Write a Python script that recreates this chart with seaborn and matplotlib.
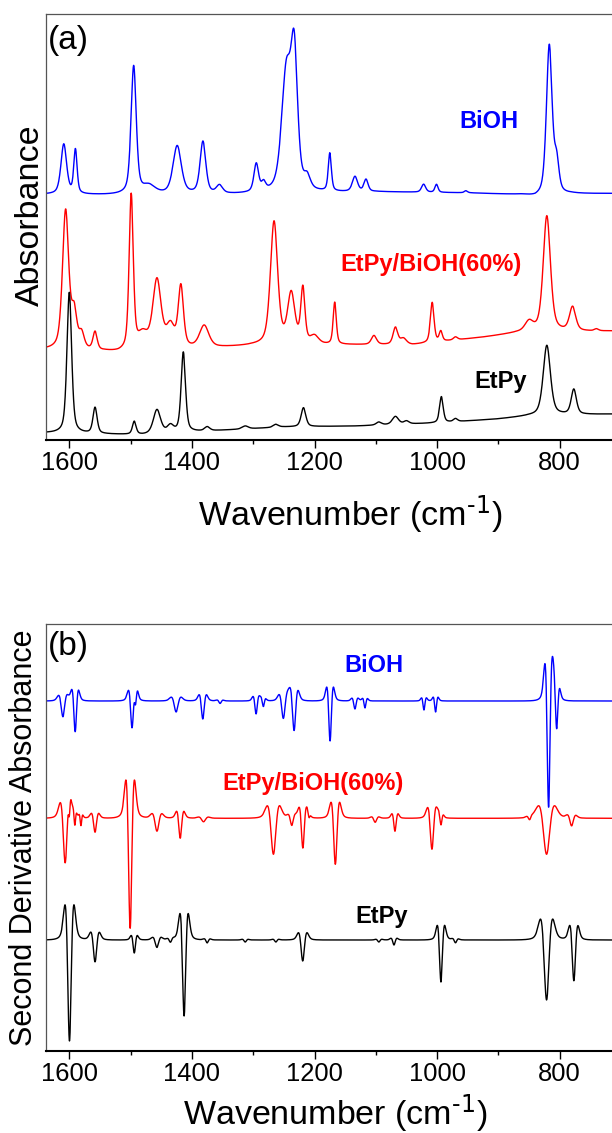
import numpy as np
import pandas as pd
import matplotlib
matplotlib.use("Agg")
import matplotlib.pyplot as plt
import seaborn as sns
from matplotlib.ticker import FixedLocator, MultipleLocator

# ---------------------------------------------------------------- data
WN_MIN, WN_MAX = 700.0, 1638.5
SERIES = ["BiOH", "EtPy/BiOH(60%)", "EtPy"]
COLORS = {"BiOH": "#0000FF", "EtPy/BiOH(60%)": "#FF0000", "EtPy": "#000000"}

# (a) absorbance: baseline anchors (cm-1, level) and bands (centre, height, half width)
BIOH_BASE_WN = [1638, 1540, 1330, 1100, 950, 860, 840, 780, 700]
BIOH_BASE_LV = [245.5, 245.0, 245.5, 248.0, 247.0, 245.0, 242.5, 246.0, 246.5]
BIOH_BANDS = [(1609, 50, 5.5), (1590, 44, 3.2), (1495, 128, 5.0), (1470, 8, 12),
              (1424, 48, 8), (1382, 52, 5.5), (1355, 8, 6), (1295, 28, 4.5),
              (1283, 8, 4), (1246, 117, 9), (1233, 129, 6.5), (1212, 12, 6),
              (1175, 38, 3), (1134, 15, 5), (1116, 12, 4), (1022, 8, 4),
              (1001, 8, 3), (953, 2, 3), (817, 150, 5.5), (805, 30, 4.5)]

MIX_BASE_WN = [1638, 1540, 1520, 1330, 1300, 1140, 1040, 920, 870, 800, 700]
MIX_BASE_LV = [90, 88, 87, 93, 94, 95, 95, 103, 107, 108, 109]
MIX_BANDS = [(1606, 139, 6), (1592, 35, 5), (1580, 15, 5), (1558, 18, 4),
             (1499, 155, 4), (1480, 15, 10), (1457, 69, 8), (1435, 22, 8),
             (1418, 61, 5), (1380, 22, 9), (1266, 123, 7), (1238, 50, 7),
             (1219, 55, 4), (1200, 8, 8), (1167, 42, 3), (1103, 9, 5),
             (1068, 17, 4.5), (1055, 6, 6), (1008, 40, 3.5), (994, 10, 3),
             (970, 3, 4), (850, 10, 8), (821, 116, 7), (779, 24, 6), (740, 2, 4)]

ETPY_BASE_WN = [1638, 1560, 1480, 1400, 1250, 1130, 1000, 900, 850, 800, 700]
ETPY_BASE_LV = [7, 6, 5, 8, 13, 14, 17, 21, 24, 25, 26]
ETPY_BANDS = [(1600, 141, 4.5), (1558, 26, 4), (1494, 13, 3.5), (1457, 24, 7),
              (1435, 7, 6), (1414, 80, 4.2), (1375, 4, 5), (1313, 3, 6),
              (1263, 3, 5), (1218, 19, 4.5), (1095, 3, 5), (1068, 8, 6),
              (1050, 3, 5), (993, 26, 3.5), (970, 3, 4), (821, 70, 7), (777, 25, 5)]

# (b) second derivative: trace offset and minima (centre, depth, half width)
D2_OFFSET = {"BiOH": 349.7, "EtPy/BiOH(60%)": 232.4, "EtPy": 110.7}
BIOH_MINIMA = [(1610.4, 16, 7), (1590.4, 31, 5.5), (1497.5, 30, 6), (1492, 14, 4),
               (1425.7, 11, 8), (1382.2, 18, 6), (1354, 2.5, 5), (1295.3, 13, 5),
               (1283.4, 6, 4), (1250.8, 18, 7), (1233.3, 30, 6.5), (1174.6, 40, 5.5),
               (1134, 8, 5), (1117.6, 7, 4), (1021.4, 9, 4), (1002.4, 11, 4),
               (818.1, 107, 6), (805, 32, 5)]
MIX_MINIMA = [(1606.7, 45, 8), (1600, 12, 3), (1591, 10, 3), (1581, 8, 3),
              (1558, 14, 6), (1500.7, 110, 7), (1457, 13, 8), (1419, 20, 6),
              (1381, 3.5, 8), (1267, 36, 10), (1237, 8, 6), (1219, 30, 6),
              (1209, 3, 3), (1166, 46, 7), (1101, 4, 6), (1068.7, 13, 5),
              (1008.4, 31, 7), (993.7, 8, 4), (849, 3, 5), (821.4, 36, 13),
              (780.6, 8, 7)]
ETPY_MINIMA = [(1599.7, 101, 7.3), (1558, 22, 7), (1494, 13, 5), (1457, 7.5, 7),
               (1435, 3, 5), (1412.7, 76, 6.7), (1375, 3, 5), (1313, 2, 5),
               (1263, 2, 5), (1219.2, 21, 7), (1095, 2, 5), (1070.3, 5, 5),
               (993.7, 42, 6), (970, 3, 5), (821.4, 60, 10), (776.9, 41, 6.7)]

MAJOR_TICKS = [1600, 1400, 1200, 1000, 800]

# ---------------------------------------------------------------- curves
wn = np.arange(WN_MIN, WN_MAX + 0.25, 0.25)


def band(x, c, h, w, eta=0.5):
    u = (x - c) / w
    return h * (eta / (1 + u * u) + (1 - eta) * np.exp(-np.log(2) * u * u))


def second_derivative(x, c, depth, w):
    u = (x - c) / w
    lor = (3 * u * u - 1) / (1 + u * u) ** 3
    v = np.sqrt(3) * u
    gau = (v * v - 1) * np.exp(-v * v / 2)
    return depth * (0.5 * lor + 0.5 * gau)


def absorbance(base_wn, base_lv, bands):
    y = np.interp(wn, base_wn[::-1], base_lv[::-1])
    for c, h, w in bands:
        y = y + band(wn, c, h, w)
    return y


def derivative(offset, minima):
    y = np.full_like(wn, offset)
    for c, d, w in minima:
        y = y + second_derivative(wn, c, d, w)
    return y


abs_df = pd.concat([
    pd.DataFrame({"wn": wn, "y": absorbance(BIOH_BASE_WN, BIOH_BASE_LV, BIOH_BANDS), "s": "BiOH"}),
    pd.DataFrame({"wn": wn, "y": absorbance(MIX_BASE_WN, MIX_BASE_LV, MIX_BANDS), "s": "EtPy/BiOH(60%)"}),
    pd.DataFrame({"wn": wn, "y": absorbance(ETPY_BASE_WN, ETPY_BASE_LV, ETPY_BANDS), "s": "EtPy"}),
])
d2_df = pd.concat([
    pd.DataFrame({"wn": wn, "y": derivative(D2_OFFSET["BiOH"], BIOH_MINIMA), "s": "BiOH"}),
    pd.DataFrame({"wn": wn, "y": derivative(D2_OFFSET["EtPy/BiOH(60%)"], MIX_MINIMA), "s": "EtPy/BiOH(60%)"}),
    pd.DataFrame({"wn": wn, "y": derivative(D2_OFFSET["EtPy"], ETPY_MINIMA), "s": "EtPy"}),
])

# ---------------------------------------------------------------- figure
sns.set_theme(style="white")
plt.rcParams["font.family"] = ["Liberation Sans", "DejaVu Sans"]
plt.rcParams["mathtext.default"] = "regular"
plt.rcParams["text.color"] = "black"
plt.rcParams["axes.labelcolor"] = "black"
plt.rcParams["xtick.color"] = "black"

W, H = 612, 1133
fig = plt.figure(figsize=(W / 100, H / 100), dpi=100)


def px_axes(left, top, right, bottom):
    return fig.add_axes([left / W, 1 - bottom / H, (right - left) / W, (bottom - top) / H])


ax_a = px_axes(45.7, 14, 621, 440)
ax_b = px_axes(45.7, 624, 621, 1050.7)

for ax, df in ((ax_a, abs_df), (ax_b, d2_df)):
    sns.lineplot(data=df, x="wn", y="y", hue="s", palette=COLORS, hue_order=SERIES,
                 estimator=None, sort=False, legend=False, linewidth=1.0, ax=ax)
    ax.set_xlim(WN_MAX, WN_MIN)
    ax.xaxis.set_major_locator(FixedLocator(MAJOR_TICKS))
    ax.xaxis.set_minor_locator(MultipleLocator(100))
    ax.set_yticks([])
    ax.tick_params(axis="x", which="major", direction="out", length=5.8, width=1.0,
                   labelsize=18.4, pad=2.3, colors="black", bottom=True)
    ax.tick_params(axis="x", which="minor", direction="out", length=3.0, width=1.0,
                   colors="black", bottom=True)
    for side in ("left", "top", "right"):
        ax.spines[side].set_color("#555555")
        ax.spines[side].set_linewidth(0.9)
    ax.spines["bottom"].set_color("black")
    ax.spines["bottom"].set_linewidth(1.5)
    ax.set_xlabel(r"Wavenumber (cm$^{\text{-1}}$)", fontsize=24.5, va="baseline",
                  color="black")

ax_a.set_ylim(0, 426)
ax_b.set_ylim(0, 426.7)

ax_a.set_ylabel("Absorbance", fontsize=24.5, color="black")
ax_a.yaxis.set_label_coords(0.0007, 0.528)
ax_b.set_ylabel("Second Derivative Absorbance", fontsize=22, color="black")
ax_b.yaxis.set_label_coords(-0.0108, 0.5)
ax_a.xaxis.set_label_coords(0.529, -0.202)
ax_b.xaxis.set_label_coords(0.503, -0.175)

ax_a.text(0.004, (440 - 48.5) / 426, "(a)", transform=ax_a.transAxes, fontsize=24,
          ha="left", va="baseline")
ax_b.text(0.004, (1050.7 - 655) / 426.7, "(b)", transform=ax_b.transAxes, fontsize=24,
          ha="left", va="baseline")

label_kw = dict(fontsize=17, fontweight="bold", ha="center", va="baseline")
ax_a.text(915, 312, "BiOH", color=COLORS["BiOH"], **label_kw)
ax_a.text(1010, 169, "EtPy/BiOH(60%)", color=COLORS["EtPy/BiOH(60%)"], **label_kw)
ax_a.text(897, 52, "EtPy", color=COLORS["EtPy"], **label_kw)
ax_b.text(1103, 378.7, "BiOH", color=COLORS["BiOH"], **label_kw)
ax_b.text(1203, 260.7, "EtPy/BiOH(60%)", color=COLORS["EtPy/BiOH(60%)"], **label_kw)
ax_b.text(1091, 127.7, "EtPy", color=COLORS["EtPy"], **label_kw)

fig.savefig("out.png", dpi=100)
